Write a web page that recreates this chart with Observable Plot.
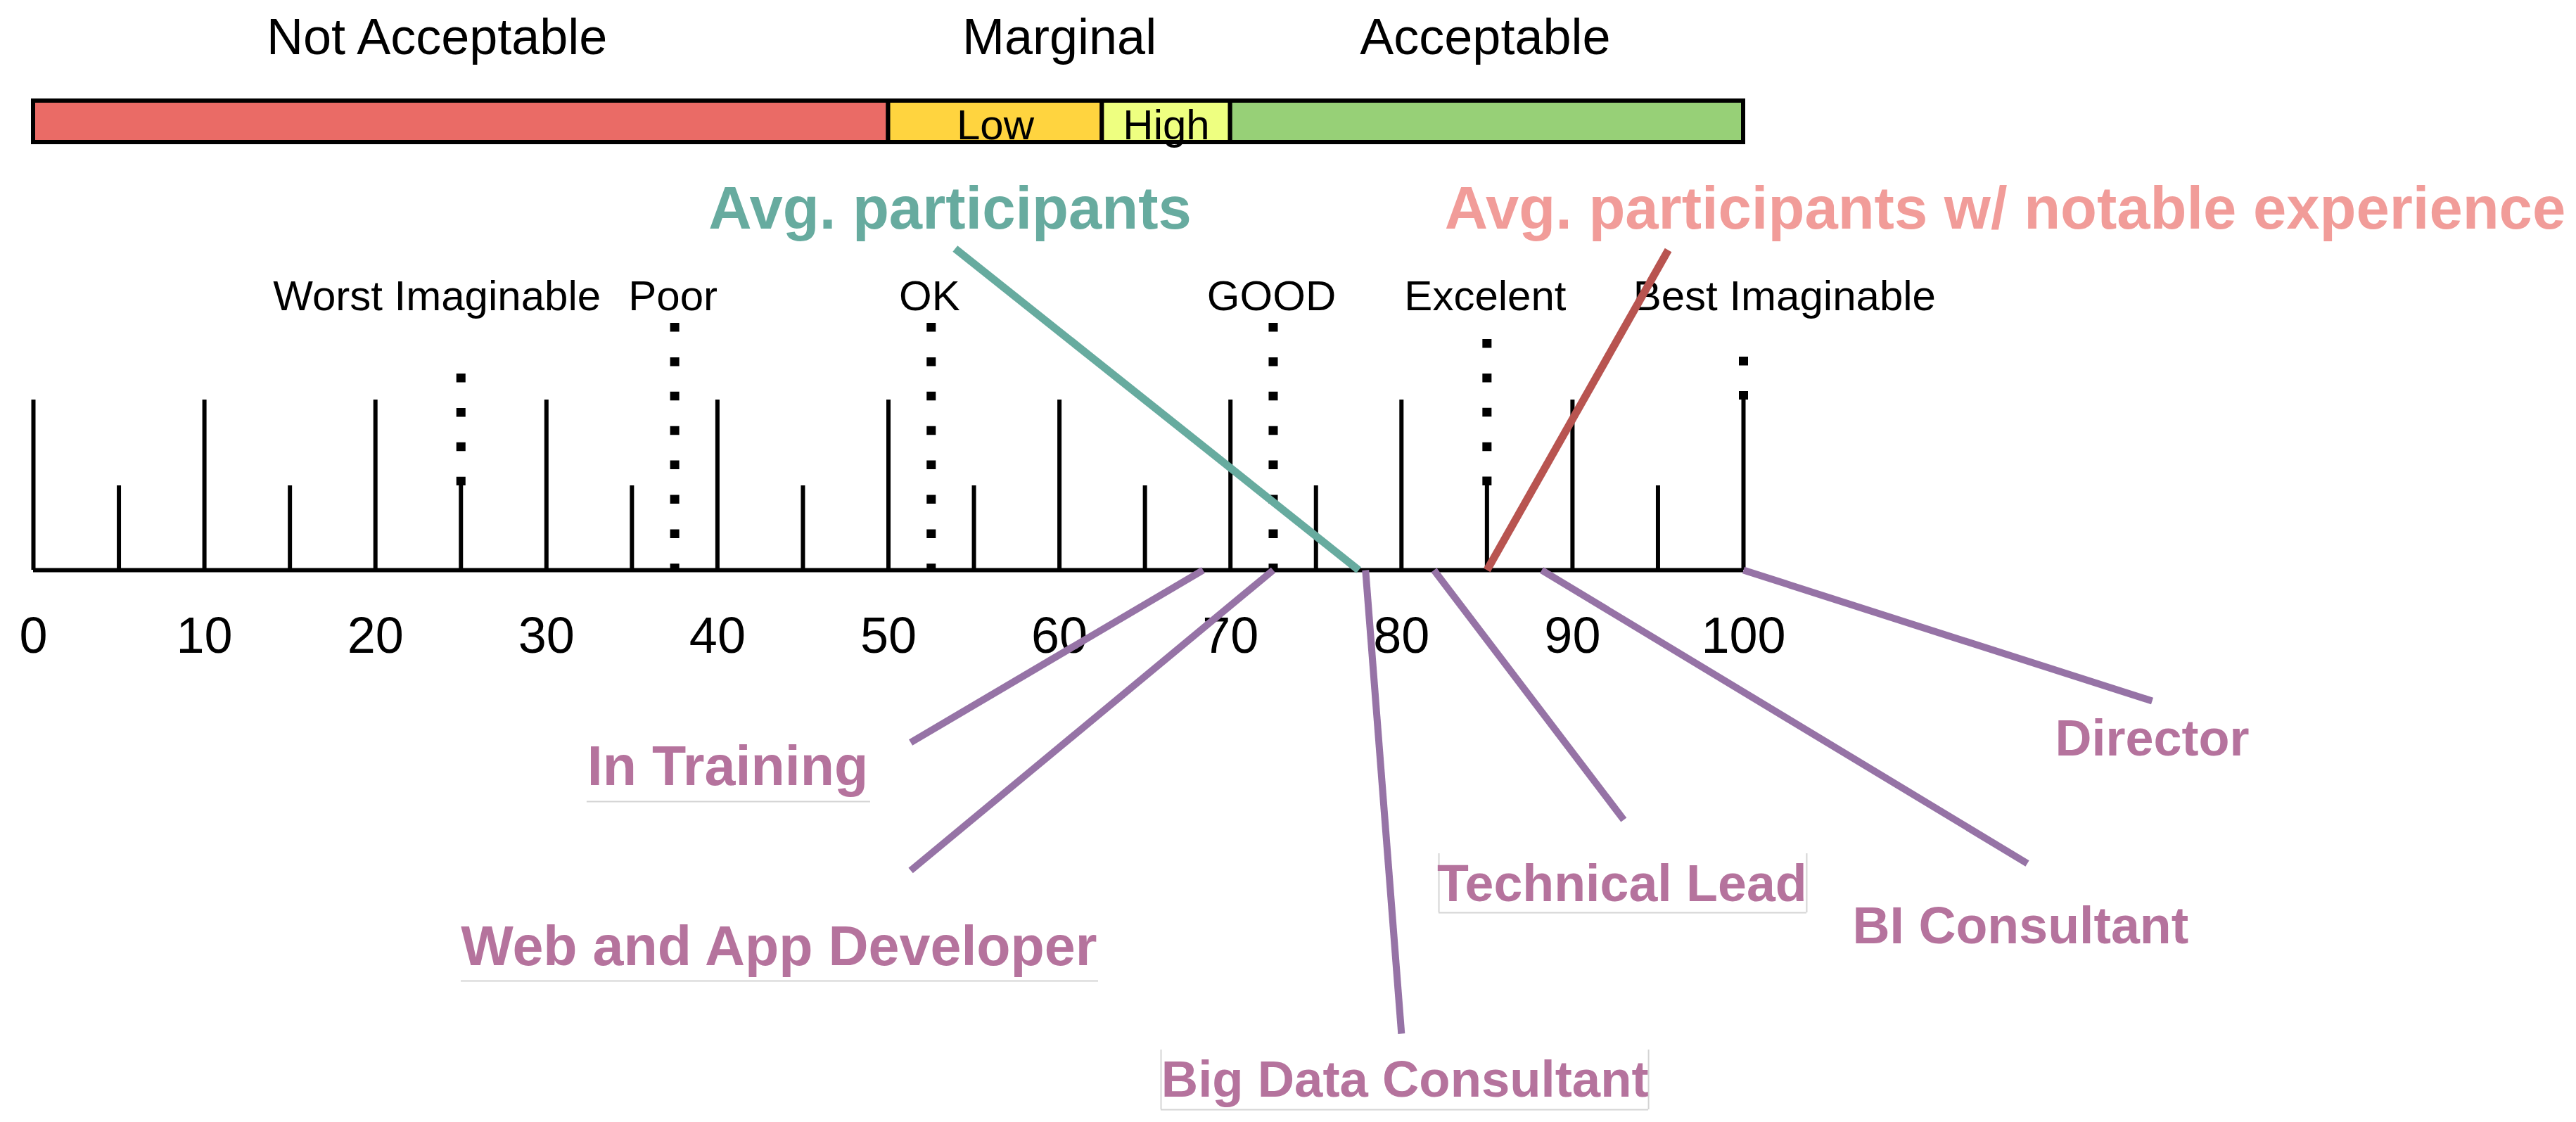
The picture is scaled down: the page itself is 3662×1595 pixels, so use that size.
<!DOCTYPE html>
<html>
<head>
<meta charset="utf-8">
<script src="https://cdn.jsdelivr.net/npm/d3@7"></script>
<script src="https://cdn.jsdelivr.net/npm/@observablehq/plot@0.6"></script>
<style>
  html, body { margin: 0; padding: 0; background: #ffffff; overflow: hidden; }
  #chart svg { display: block; }
</style>
</head>
<body>
<div id="chart"></div>
<script>
// ---------------- DATA ----------------
// Acceptability ranges (SUS score)
const zoneNames = ["Not Acceptable", "Marginal", "Acceptable"];
const bandLabels = ["", "Low", "High", ""];
const bandStart = [0, 50, 62.5, 70];
const bandEnd = [50, 62.5, 70, 100];
const bandColors = ["#EA6B66", "#FFD43F", "#EEFF80", "#97D077"];

// Adjective ratings and their score on the scale
const adjectives = ["Worst Imaginable", "Poor", "OK", "GOOD", "Excelent", "Best Imaginable"];
const adjectiveScores = [25, 37.5, 52.5, 72.5, 85, 100];

// Axis ticks
const majorTicks = [0, 10, 20, 30, 40, 50, 60, 70, 80, 90, 100];
const minorTicks = [5, 15, 25, 35, 45, 55, 65, 75, 85, 95];
const tickLabels = ["0", "10", "20", "30", "40", "50", "60", "70", "80", "90", "100"];

// Averages
const averageNames = ["Avg. participants", "Avg. participants w/ notable experience"];
const averageScores = [77.5, 85.0];
const averageTextColors = ["#67AB9F", "#F19C99"];
const averageLineColors = ["#67AB9F", "#B85450"];

// Roles
const roles = ["In Training", "Web and App Developer", "Big Data Consultant", "Technical Lead", "BI Consultant", "Director"];
const roleScores = [68.4, 72.5, 77.9, 81.9, 88.2, 100];

// ---------------- LAYOUT (annotation placement) ----------------
// x in score units, y in pixels above the axis baseline
const MAJOR_H = 242, MINOR_H = 120;
const zoneLabelX = [23.6, 60, 84.9];
const adjectiveLabelX = [23.6, 37.4, 52.4, 72.4, 84.9, 102.4];
const adjectiveLineTop = [279, 351, 351, 351, 328, 303];
const averageLabelX = [53.6, 115.3];
const averageLineStart = [[53.9, 457], [95.6, 455]];
const roleLabelPos = [[40.6, -305], [43.6, -561], [80.2, -748], [92.9, -470], [116.2, -530], [123.9, -263]];
const roleFontSize = [79, 79, 72.5, 73.5, 73.5, 72];
const roleLineEnd = [[51.3, -245], [51.3, -427], [80.0, -659], [93.0, -355], [116.6, -417], [123.9, -186]];
// faint text-box borders: [x1, x2, yTop, yBottom, hasSides]
const boxes = [
  [32.37, 48.95, -329, -329, false],
  [25.01, 62.28, -584, -584, false],
  [65.94, 94.45, -682, -767, true],
  [82.19, 103.7, -403, -487, true]
];

// ---------------- BUILD ----------------
const tickHeightAt = v => (majorTicks.includes(v) ? MAJOR_H : minorTicks.includes(v) ? MINOR_H : 0);
const bands = bandStart.map((s, i) => ({x1: s, x2: bandEnd[i], label: bandLabels[i], fill: bandColors[i], mid: (s + bandEnd[i]) / 2}));
const zones = zoneNames.map((n, i) => ({name: n, x: zoneLabelX[i]}));
const adj = adjectives.map((a, i) => ({name: a, score: adjectiveScores[i], top: adjectiveLineTop[i], bottom: tickHeightAt(adjectiveScores[i]), lx: adjectiveLabelX[i]}));
const avgs = averageNames.map((n, i) => ({name: n, score: averageScores[i], lx: averageLabelX[i], sx: averageLineStart[i][0], sy: averageLineStart[i][1], tc: averageTextColors[i], lc: averageLineColors[i]}));
const roleRows = roles.map((r, i) => ({name: r, score: roleScores[i], lx: roleLabelPos[i][0], ly: roleLabelPos[i][1], fs: roleFontSize[i], ex: roleLineEnd[i][0], ey: roleLineEnd[i][1]}));
const ticks = majorTicks.map((t, i) => ({v: t, label: tickLabels[i]}));
const boxBottoms = boxes.map(b => ({x1: b[0], x2: b[1], y: b[3]}));
const boxSides = boxes.filter(b => b[4]).flatMap(b => [{x: b[0], y1: b[2], y2: b[3]}, {x: b[1], y1: b[2], y2: b[3]}]);

const FONT = "'Liberation Sans', Arial, Helvetica, sans-serif";
const PURPLE_LINE = "#9673A6";
const PURPLE_TEXT = "#B5739D";

const roleTextMarks = roleRows.map(r =>
  Plot.text([r], {x: "lx", y: "ly", text: "name", fontSize: r.fs, fontWeight: "bold", fill: PURPLE_TEXT, lineAnchor: "bottom"})
);

const chart = Plot.plot({
  width: 3662,
  height: 1595,
  margin: 0,
  x: {domain: [0, 100], range: [47, 2478], axis: null},
  y: {domain: [-785, 810], range: [1595, 0], axis: null},
  style: {fontFamily: FONT, background: "#ffffff", overflow: "visible"},
  marks: [
    // faint label boxes
    Plot.ruleY(boxBottoms, {x1: "x1", x2: "x2", y: "y", stroke: "#d4d4d4", strokeWidth: 2}),
    Plot.ruleX(boxSides, {x: "x", y1: "y1", y2: "y2", stroke: "#d4d4d4", strokeWidth: 2}),
    // acceptability bar
    Plot.rect(bands, {x1: "x1", x2: "x2", y1: 608, y2: 667, fill: "fill", stroke: "#000", strokeWidth: 6}),
    Plot.text(bands.filter(d => d.label), {x: "mid", y: 613, text: "label", fontSize: 60, fill: "#000", lineAnchor: "bottom"}),
    Plot.text(zones, {x: "x", y: 734, text: "name", fontSize: 72, fill: "#000", lineAnchor: "bottom"}),
    // ticks
    Plot.ruleX(majorTicks, {x: d => d, y1: 0, y2: MAJOR_H, stroke: "#000", strokeWidth: 6}),
    Plot.ruleX(minorTicks, {x: d => d, y1: 0, y2: MINOR_H, stroke: "#000", strokeWidth: 6}),
    // dotted adjective lines (stop where they meet a tick)
    Plot.ruleX(adj, {x: "score", y1: "top", y2: "bottom", stroke: "#000", strokeWidth: 13, strokeDasharray: "12.5,36.4"}),
    // baseline
    Plot.ruleY([0], {x1: 0, x2: 100, stroke: "#000", strokeWidth: 6}),
    Plot.text(ticks, {x: "v", y: -117, text: "label", fontSize: 72, fill: "#000", lineAnchor: "bottom"}),
    Plot.text(adj, {x: "lx", y: 370, text: "name", fontSize: 60, fill: "#000", lineAnchor: "bottom"}),
    // average labels and leaders
    Plot.text(avgs, {x: "lx", y: 486, text: "name", fontSize: 85, fontWeight: "bold", fill: d => d.tc, lineAnchor: "bottom"}),
    Plot.link(avgs, {x1: "sx", y1: "sy", x2: "score", y2: 0, stroke: d => d.lc, strokeWidth: 11}),
    // roles
    Plot.link(roleRows, {x1: "score", y1: 0, x2: "ex", y2: "ey", stroke: PURPLE_LINE, strokeWidth: 10}),
    ...roleTextMarks
  ]
});
document.getElementById("chart").appendChild(chart);
</script>
</body>
</html>
